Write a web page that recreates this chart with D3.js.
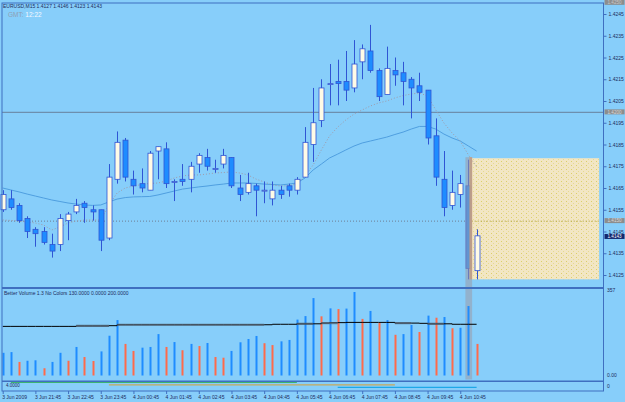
<!DOCTYPE html>
<html>
<head>
<meta charset="utf-8">
<script src="https://cdnjs.cloudflare.com/ajax/libs/d3/7.8.5/d3.min.js"></script>
<style>
  body { margin: 0; background: #87cefa; }
  svg { display: block; font-family: "Liberation Sans", Arial, sans-serif; }
</style>
</head>
<body>
<div id="chart"></div>
<script>
// EURUSD M15 bars, 3 Jun 20:45 .. 4 Jun 11:15
const OPEN  = [1.4155,1.4160,1.4157,1.4151,1.4146,1.4145,1.4139,1.4139,1.4150,1.4154,1.4158,1.4155,1.4155,1.4142,1.4169,1.4187,1.4169,1.4167,1.4164,1.4182,
               1.4183,1.4168,1.4169,1.4169,1.4176,1.4179,1.4174,1.4176,1.4179,1.4165,1.4163,1.4166,1.4164,1.4160,1.4164,1.4166,1.4164,1.4170,1.4185,1.4196,
               1.4213,1.4214,1.4214,1.4211,1.4223,1.4228,1.4219,1.4208,1.4219,1.4218,1.4215,1.4212,1.4210,1.4189,1.4169,1.4157,1.4162,1.4166,1.4127];
const HIGH  = [1.4164,1.4164,1.4158,1.4152,1.4147,1.4147,1.4144,1.4153,1.4154,1.4160,1.4159,1.4157,1.4155,1.4176,1.4191,1.4188,1.4173,1.4174,1.4182,1.4184,
               1.4186,1.4169,1.4176,1.4177,1.4181,1.4183,1.4178,1.4183,1.4179,1.4171,1.4172,1.4167,1.4168,1.4168,1.4166,1.4167,1.4170,1.4193,1.4211,1.4215,
               1.4222,1.4224,1.4228,1.4233,1.4231,1.4240,1.4220,1.4230,1.4225,1.4223,1.4216,1.4218,1.4210,1.4197,1.4182,1.4173,1.4171,1.4178,1.4146];
const LOW   = [1.4154,1.4155,1.4149,1.4142,1.4138,1.4139,1.4133,1.4136,1.4141,1.4153,1.4149,1.4150,1.4136,1.4141,1.4167,1.4168,1.4162,1.4163,1.4164,1.4169,
               1.4165,1.4159,1.4166,1.4163,1.4172,1.4173,1.4172,1.4174,1.4165,1.4159,1.4162,1.4152,1.4158,1.4157,1.4160,1.4161,1.4162,1.4170,1.4177,1.4193,
               1.4203,1.4203,1.4205,1.4209,1.4215,1.4218,1.4205,1.4208,1.4212,1.4203,1.4197,1.4205,1.4185,1.4166,1.4152,1.4155,1.4156,1.4123,1.4123];
const CLOSE = [1.4162,1.4156,1.4150,1.4145,1.4144,1.4140,1.4136,1.4151,1.4153,1.4157,1.4156,1.4154,1.4141,1.4170,1.4186,1.4170,1.4166,1.4165,1.4181,1.4184,
               1.4167,1.4168,1.4168,1.4175,1.4180,1.4175,1.4174,1.4180,1.4166,1.4162,1.4167,1.4164,1.4164,1.4164,1.4162,1.4164,1.4169,1.4186,1.4195,1.4211,
               1.4213,1.4213,1.4210,1.4222,1.4229,1.4219,1.4207,1.4220,1.4217,1.4214,1.4211,1.4209,1.4188,1.4170,1.4156,1.4163,1.4167,1.4128,1.4143];

// moving averages drawn on the price window
const MA_FAST = [1.41503,1.41501,1.41498,1.41494,1.41489,1.41480,1.41457,1.41471,1.41489,1.41498,1.41503,1.41503,1.41503,1.41572,1.41627,1.41650,1.41659,1.41666,1.41671,1.41673,
                 1.41682,1.41696,1.41705,1.41710,1.41710,1.41714,1.41719,1.41721,1.41724,1.41719,1.41710,1.41691,1.41678,1.41664,1.41659,1.41661,1.41668,1.41705,1.41756,1.41825,
                 1.41889,1.41930,1.41963,1.41990,1.42009,1.42027,1.42041,1.42050,1.42064,1.42075,1.42082,1.42087,1.42073,1.42009,1.41949,1.41903,1.41866,1.41802,1.41747];
const MA_SLOW = [1.41650,1.41641,1.41632,1.41622,1.41613,1.41604,1.41595,1.41588,1.41581,1.41576,1.41572,1.41570,1.41572,1.41586,1.41599,1.41606,1.41609,1.41610,1.41611,1.41618,
                 1.41627,1.41636,1.41645,1.41650,1.41655,1.41659,1.41664,1.41668,1.41673,1.41673,1.41673,1.41671,1.41668,1.41666,1.41664,1.41668,1.41673,1.41696,1.41733,1.41760,
                 1.41788,1.41806,1.41825,1.41843,1.41857,1.41866,1.41875,1.41884,1.41896,1.41907,1.41921,1.41933,1.41933,1.41921,1.41898,1.41880,1.41866,1.41843,1.41820];

// Better Volume window
const VOLUME = [97,100,58,63,65,31,58,97,63,122,79,62,103,170,237,135,105,119,122,177,
                122,143,108,135,126,139,79,76,105,142,156,169,138,130,146,152,239,254,331,253,
                287,284,286,357,242,276,226,237,174,177,216,186,256,247,250,202,204,297,135];
const VOL_KIND = "bbrbbrbbrbrrbbbrrbbbrbrbrbrrbbbbrrbbbbbrbrbbrbrbrbbrbrbrbbr";
const VOL_AVG = [210,210,210,210,210,210,210,210,210,212,212,212,212,213,217,217,217,217,217,217,
                 217,217,217,217,217,217,217,217,217,217,217,217,217,219,219,219,221,221,221,224,
                 226,226,227,227,227,227,227,227,224,224,224,223,221,221,221,219,219,219,219];
const VOL_MARKED = [[9,13],[14,32],[36,38],[39,41],[48,50],[52,54]];

// session lines in the bottom window (bar ranges)
const SESSIONS = [{from: 1, to: 36, color: "#3cb371"}, {from: 13, to: 48, color: "#c8a85a"}, {from: 41, to: 58, color: "#1ea8e8"}];

const PRICE_TICKS = [1.4245,1.4235,1.4225,1.4215,1.4205,1.4195,1.4185,1.4175,1.4165,1.4155,1.4145,1.4135,1.4125];
const TIME_BARS = [0,4,8,12,16,20,24,28,32,36,40,44,48,52,56];
const TIME_LABELS = ["3 Jun 2009","3 Jun 21:45","3 Jun 22:45","3 Jun 23:45","4 Jun 00:45","4 Jun 01:45","4 Jun 02:45",
                     "4 Jun 03:45","4 Jun 04:45","4 Jun 05:45","4 Jun 06:45","4 Jun 07:45","4 Jun 08:45","4 Jun 09:45","4 Jun 10:45"];

const LEVEL_TOP = 1.4250, LEVEL_SOLID = 1.4200, LEVEL_DOT = 1.4150, BID = 1.4143;
const BOX = {from: 57.4, to: 73, top: 1.41787, bottom: 1.4123};

// frame
const WIDTH = 625, HEIGHT = 402;
const AXIS_X = 603.5;
const MAIN = {top: 3, bottom: 287};
const VOLW = {top: 288, bottom: 380.5};
const SESW = {top: 381, bottom: 391};

const BG = "#87cefa", FRAME = "#3f6fc0", TXT = "#1c2c5c";

const svg = d3.select("#chart").append("svg")
    .attr("width", WIDTH).attr("height", HEIGHT);

svg.append("rect").attr("width", WIDTH).attr("height", HEIGHT).attr("fill", BG);

const x = d3.scaleLinear().domain([0, 58]).range([2.7, 476.6]);
const y = d3.scaleLinear().domain([1.4125, 1.4245]).range([275, 14]);
const yv = d3.scaleLinear().domain([0, 357]).range([375.5, 292]);

// dotted pattern for the box
const defs = svg.append("defs");
const pat = defs.append("pattern").attr("id", "sand")
    .attr("width", 5).attr("height", 4).attr("patternUnits", "userSpaceOnUse");
pat.append("rect").attr("width", 5).attr("height", 4).attr("fill", "#f2e6c4");
pat.append("rect").attr("x", 1).attr("y", 1).attr("width", 1).attr("height", 1).attr("fill", "#dccf6a");
pat.append("rect").attr("x", 3).attr("y", 3).attr("width", 1).attr("height", 1).attr("fill", "#e6da90");

const main = svg.append("g");

// rectangle object
main.append("rect")
    .attr("x", x(BOX.from)).attr("y", y(BOX.top))
    .attr("width", x(BOX.to) - x(BOX.from)).attr("height", y(BOX.bottom) - y(BOX.top))
    .attr("fill", "url(#sand)");

// horizontal levels
main.append("line")
    .attr("x1", 2).attr("x2", AXIS_X).attr("y1", y(LEVEL_SOLID) + 0.5).attr("y2", y(LEVEL_SOLID) + 0.5)
    .attr("stroke", "#6d8fae").attr("stroke-width", 1.2);
main.append("line")
    .attr("x1", 2).attr("x2", x(BOX.from)).attr("y1", y(LEVEL_DOT) + 0.5).attr("y2", y(LEVEL_DOT) + 0.5)
    .attr("stroke", "#6f7f95").attr("stroke-dasharray", "1,2");
main.append("line")
    .attr("x1", x(BOX.from)).attr("x2", 599).attr("y1", y(LEVEL_DOT) + 0.5).attr("y2", y(LEVEL_DOT) + 0.5)
    .attr("stroke", "#a89a30").attr("stroke-dasharray", "1,2");

// moving averages
const line = d3.line().x((d, i) => x(i)).y(d => y(d));
main.append("path").datum(MA_SLOW).attr("d", line)
    .attr("fill", "none").attr("stroke", "#4f9fe0").attr("stroke-width", 1);
main.append("path").datum(MA_FAST).attr("d", line)
    .attr("fill", "none").attr("stroke", "#a09aa8").attr("stroke-width", 1).attr("stroke-dasharray", "1,2");

// candles
const bars = d3.range(OPEN.length);
main.append("g").selectAll("line").data(bars).join("line")
    .attr("x1", i => Math.round(x(i)) + 0.5).attr("x2", i => Math.round(x(i)) + 0.5)
    .attr("y1", i => y(HIGH[i])).attr("y2", i => y(LOW[i]))
    .attr("stroke", "#2f55d4").attr("stroke-width", 1);
main.append("g").selectAll("rect").data(bars).join("rect")
    .attr("x", i => Math.round(x(i)) - 2)
    .attr("y", i => y(Math.max(OPEN[i], CLOSE[i])))
    .attr("width", 5)
    .attr("height", i => Math.max(1, Math.abs(y(OPEN[i]) - y(CLOSE[i]))))
    .attr("fill", i => CLOSE[i] >= OPEN[i] ? "#fffbe6" : "#1e8cff")
    .attr("stroke", "#2f55d4").attr("stroke-width", 0.8);

// vertical marker at the current bar
main.append("rect")
    .attr("x", x(57) + 1).attr("y", y(BOX.top) - 1)
    .attr("width", 2.7).attr("height", y(BOX.bottom) - y(BOX.top) + 1)
    .attr("fill", "#f4a25a").attr("opacity", 0.9);
svg.append("rect")
    .attr("x", x(57) - 3).attr("y", y(BOX.top) - 1)
    .attr("width", 6.7).attr("height", VOLW.bottom - y(BOX.top))
    .attr("fill", "#9a9aa8").attr("opacity", 0.55);

// volume bars
const vol = svg.append("g");
vol.selectAll("rect").data(bars).join("rect")
    .attr("x", i => Math.round(x(i)) - 0.5)
    .attr("y", i => yv(VOLUME[i]))
    .attr("width", 2)
    .attr("height", i => yv(0) - yv(VOLUME[i]))
    .attr("fill", i => VOL_KIND[i] === "r" ? "#ff6a4a" : "#1e8cff");

const vline = d3.line().x((d, i) => x(i)).y(d => yv(d)).curve(d3.curveStepAfter);
vol.append("path").datum(VOL_AVG).attr("d", vline)
    .attr("fill", "none").attr("stroke", "#000").attr("stroke-width", 1);
VOL_MARKED.forEach(([a, b]) => {
  vol.append("line")
    .attr("x1", x(a)).attr("x2", x(b))
    .attr("y1", yv(VOL_AVG[a])).attr("y2", yv(VOL_AVG[a]))
    .attr("stroke", "#506070").attr("stroke-width", 2.2).attr("opacity", 0.75);
});

// session lines
SESSIONS.forEach((s, k) => {
  svg.append("line")
    .attr("x1", x(s.from)).attr("x2", x(s.to))
    .attr("y1", SESW.top + 1.5 + k * 2.4).attr("y2", SESW.top + 1.5 + k * 2.4)
    .attr("stroke", s.color).attr("stroke-width", 1.2);
});

// window frames
svg.append("rect").attr("x", 2).attr("y", MAIN.top).attr("width", AXIS_X - 2).attr("height", SESW.bottom - MAIN.top)
    .attr("fill", "none").attr("stroke", FRAME).attr("stroke-width", 1);
svg.append("rect").attr("x", 2).attr("y", MAIN.bottom).attr("width", AXIS_X - 2).attr("height", 2).attr("fill", FRAME);
svg.append("rect").attr("x", 2).attr("y", VOLW.bottom).attr("width", AXIS_X - 2).attr("height", 1.5).attr("fill", FRAME);

// price axis
const pAxis = svg.append("g").attr("transform", `translate(${AXIS_X},0)`)
    .call(d3.axisRight(y).tickValues(PRICE_TICKS).tickFormat(d3.format(".4f")).tickSize(3).tickPadding(2));
pAxis.select(".domain").remove();
pAxis.selectAll("line").attr("stroke", FRAME);
pAxis.selectAll("text").attr("fill", TXT).style("font-size", "5px");

// price tags
function tag(price, fill, color, dy) {
  const g = svg.append("g").attr("transform", `translate(${AXIS_X + 1},${y(price) + dy})`);
  g.append("rect").attr("x", 0).attr("y", -2.5).attr("width", 20).attr("height", 5).attr("fill", fill);
  g.append("text").attr("x", 3).attr("y", 1.7).attr("fill", color).style("font-size", "4.6px")
    .text(d3.format(".4f")(price));
}
tag(LEVEL_TOP, "#8d8d8d", "#c8c8c8", -0.8);
tag(LEVEL_SOLID, "#8d8d8d", "#d8d8d8", 0);
tag(LEVEL_DOT, "#8d8d8d", "#d8d8d8", 0);
tag(BID, "#14286e", "#ffffff", 0.6);

// volume scale
svg.append("text").attr("x", 607).attr("y", 292).attr("fill", TXT).style("font-size", "5px").text("357");
svg.append("text").attr("x", 607).attr("y", 377).attr("fill", TXT).style("font-size", "5px").text("0.00");
svg.append("text").attr("x", 607).attr("y", 388).attr("fill", TXT).style("font-size", "5px").text("0");

// time axis
const tAxis = svg.append("g").attr("transform", `translate(0,${SESW.bottom})`)
    .call(d3.axisBottom(x).tickValues(TIME_BARS).tickFormat((d, i) => TIME_LABELS[i]).tickSize(3).tickPadding(1));
tAxis.select(".domain").remove();
tAxis.selectAll("line").attr("stroke", FRAME);
tAxis.selectAll("text").attr("fill", TXT).attr("text-anchor", "start").attr("dx", "-1").style("font-size", "5px");

// titles
svg.append("text").attr("x", 3).attr("y", 8).attr("fill", TXT).style("font-size", "5px")
    .text("EURUSD,M15  1.4127 1.4146 1.4123 1.4143");
const gmt = svg.append("text").attr("x", 8).attr("y", 17).style("font-size", "6.5px");
gmt.append("tspan").attr("fill", "#8f9fb4").text("GMT: ");
gmt.append("tspan").attr("fill", "#f4f8ff").text("12:22");
svg.append("text").attr("x", 4).attr("y", 295).attr("fill", TXT).style("font-size", "5px")
    .text("Better Volume 1.3 No Colors 130.0000 0.0000 200.0000");
svg.append("text").attr("x", 6).attr("y", 387).attr("fill", TXT).style("font-size", "4.5px").text("4.0000");
</script>
</body>
</html>
